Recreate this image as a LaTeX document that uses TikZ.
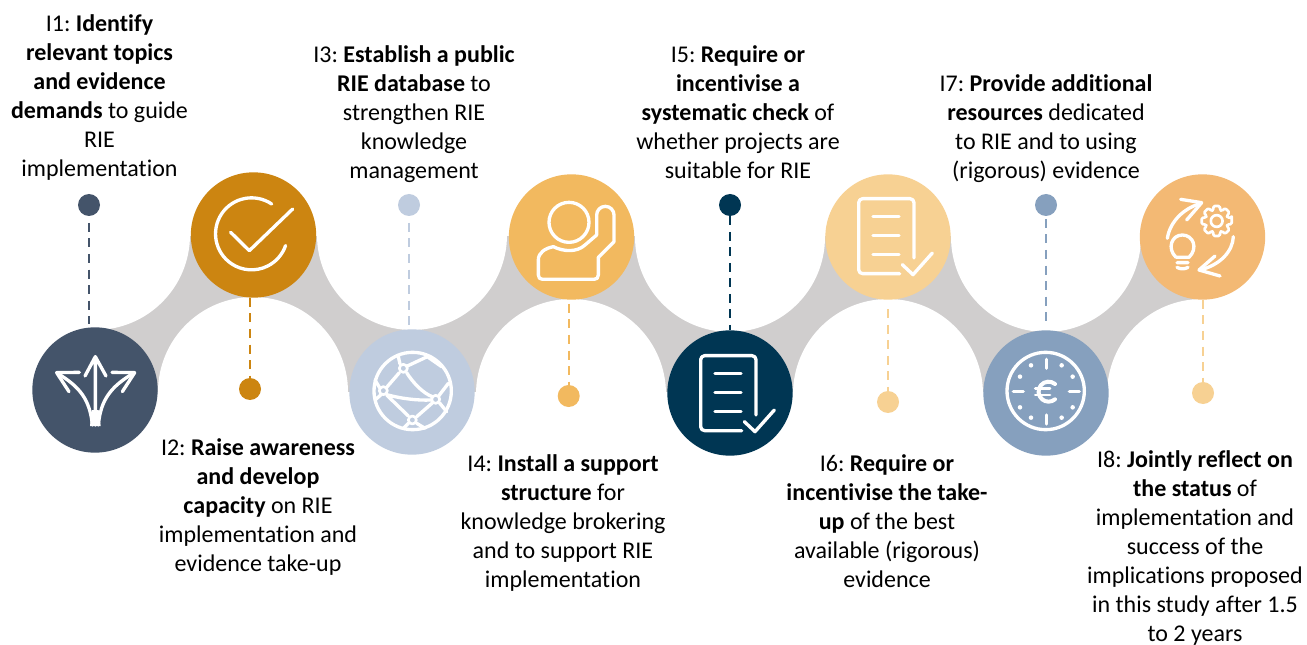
\documentclass[tikz,border=0pt]{standalone}
\usepackage{fontspec}
\setmainfont{Carlito}[Ligatures=CommonOff]
\frenchspacing
\definecolor{cA}{HTML}{44546A}
\definecolor{cB}{HTML}{CC8511}
\definecolor{cC}{HTML}{BFCCDF}
\definecolor{cD}{HTML}{F2B95F}
\definecolor{cE}{HTML}{003653}
\definecolor{cF}{HTML}{F7D193}
\definecolor{cG}{HTML}{86A0BE}
\definecolor{cH}{HTML}{F3B974}
\definecolor{band}{HTML}{D0CECE}
\tikzset{
  disc/.style={circle,minimum size=94pt,inner sep=0pt,fill=#1},
  dotn/.style={circle,minimum size=16.5pt,inner sep=0pt,fill=#1},
  cut/.style={circle,minimum size=142.5pt,inner sep=0pt,fill=white},
  link/.style={draw=#1,line width=1.5pt,dash pattern=on 6.75pt off 4.9pt},
  iconline/.style={draw=white,line width=2.5pt,line cap=round,line join=round},
  thinicon/.style={draw=white,line width=2pt,line cap=round,line join=round},
  lab/.style={align=center,inner sep=0pt,text=black,font=\fontsize{18}{21.75}\selectfont},
  zoomA/.style={shift={(#1,180)},x=0.25pt,y=-0.25pt},
  docicon/.pic={
    \draw[iconline,rounded corners=3pt,x=0.25pt,y=-0.25pt] (35,113) -- (-88,113) -- (-88,-112) -- (78,-112) -- (78,66);
    \draw[iconline,x=0.25pt,y=-0.25pt] (-45,-59) -- (33,-59) (-45,-1) -- (33,-1) (-45,56) -- (33,56);
    \draw[iconline,x=0.25pt,y=-0.25pt] (43,86) -- (75,116) -- (133,51);
  }
}
\begin{document}
\begin{tikzpicture}[x=0.75pt,y=-0.75pt]
\useasboundingbox (0,0) rectangle (1307,645);
% band
\fill[band] (95,236) rectangle (1202,392);
\node[cut] (w1) at (95,235) {};
\node[cut] (w2) at (412,235) {};
\node[cut] (w3) at (730,237) {};
\node[cut] (w4) at (1046,237) {};
\node[cut] (w5) at (253,392) {};
\node[cut] (w6) at (571,394) {};
\node[cut] (w7) at (888,394) {};
\node[cut] (w8) at (1202,394) {};
% discs
\node[disc=cA] (c1) at (95,390) {};
\node[disc=cB] (c2) at (253.5,235) {};
\node[disc=cC] (c3) at (412,392) {};
\node[disc=cD] (c4) at (571.5,237) {};
\node[disc=cE] (c5) at (730,393) {};
\node[disc=cF] (c6) at (888,237) {};
\node[disc=cG] (c7) at (1046,393) {};
\node[disc=cH] (c8) at (1202.5,237) {};
% dots
\node[dotn=cA] (d1) at (89,205) {};
\node[dotn=cB] (d2) at (250,389) {};
\node[dotn=cC] (d3) at (409,205) {};
\node[dotn=cD] (d4) at (568.7,396) {};
\node[dotn=cE] (d5) at (730,205) {};
\node[dotn=cF] (d6) at (888,402) {};
\node[dotn=cG] (d7) at (1046,205) {};
\node[dotn=cF] (d8) at (1203,393) {};
% connectors
\draw[link=cA,shorten <=5pt,shorten >=2.5pt] (d1.south) -- (d1.south |- c1.north);
\draw[link=cB] (d2.north |- c2.south) -- (d2.north);
\draw[link=cC,shorten <=5pt,shorten >=3pt] (d3.south) -- (d3.south |- c3.north);
\draw[link=cD,shorten <=3pt] (d4.north |- c4.south) -- (d4.north);
\draw[link=cE] (d5.south) -- (c5.north);
\draw[link=cF,shorten <=7pt] (d6.north |- c6.south) -- (d6.north);
\draw[link=cG,shorten <=2pt,shorten >=7pt] (d7.south) -- (c7.north);
\draw[link=cF] (d8.north |- c8.south) -- (d8.north);
% icon 1
\begin{scope}[zoomA=0]
\draw[iconline] (286,735) -- (286,530) (255,588) -- (286,530) -- (318,588);
\draw[iconline] (277,735) .. controls (270,660) and (240,620) .. (172,580);
\draw[iconline] (238,577) -- (170,578) -- (207,635);
\draw[iconline] (295,735) .. controls (302,660) and (332,620) .. (400,580);
\draw[iconline] (336,577) -- (404,578) -- (367,635);
\fill[white] (270,738) -- (302,738) -- (296,690) -- (276,690) -- cycle;
% icon 2
\draw[iconline] (815,72) arc[start angle=56,end angle=341,radius=27pt];
\draw[iconline] (692,157) -- (748,212) -- (878,87);
\end{scope}
% icon 3, 4
\begin{scope}[zoomA=340]
\draw[iconline] (218,633) circle[radius=29pt];
\draw[thinicon] (190,565) circle[radius=3pt] (130,632) circle[radius=3pt] (287,658) circle[radius=3pt] (217,720) circle[radius=3pt];
\draw[iconline] (180,552) -- (175,530) (202,558) -- (262,530) -- (305,560)
  (178,578) -- (140,622) (120,625) -- (105,600) (122,645) -- (105,660)
  (140,644) .. controls (180,655) and (230,662) .. (274,660)
  (200,578) .. controls (220,610) and (250,640) .. (277,650)
  (140,645) -- (205,708) (230,710) -- (278,668)
  (296,648) -- (325,610) (298,668) -- (320,695)
  (205,730) -- (190,745) (230,730) -- (255,745);
\draw[iconline] (687,127) circle[radius=15pt];
\draw[iconline] (640,200) .. controls (670,215) and (710,218) .. (735,195)
  -- (770,165) -- (770,105) arc[start angle=180,end angle=0,radius=6.5pt] -- (822,185) -- (775,232) -- (775,285)
  .. controls (775,294) and (770,298) .. (762,298) -- (608,298) .. controls (600,298) and (595,294) .. (595,285)
  -- (595,240) .. controls (595,218) and (615,205) .. (640,200) -- cycle;
\end{scope}
\pic at (730,393) {docicon};
\pic at (888,236) {docicon};
% icons 7, 8
\begin{scope}[zoomA=800]
\draw[iconline] (737,633) circle[radius=29pt];
\draw[iconline] (739,538) -- (739,565) (739,705) -- (739,732) (640,635) -- (670,635) (808,635) -- (838,635);
\foreach \p in {(693,556),(785,556),(660,590),(818,590),(660,682),(818,682),(693,713),(785,713)}
  \fill[white] \p circle[radius=1.7pt];
\draw[iconline,line width=3pt] (765,612) arc[start angle=50,end angle=310,radius=7.5pt];
\draw[iconline,line width=2.2pt] (706,625) -- (750,625) (706,645) -- (750,645);
% gear
\begin{scope}[shift={(1250,123)}]
\draw[thinicon,rounded corners=1pt] (-12:46) \foreach \a in {0,45,...,315}{ -- (\a-12:46) -- (\a+12:46) -- (\a+18:34) -- (\a+27:34)} -- cycle;
\draw[thinicon] (0,0) circle[radius=4.4pt];
\end{scope}
% bulb
\draw[iconline] (1128,232) .. controls (1100,205) and (1115,165) .. (1147,165) .. controls (1180,165) and (1195,205) .. (1167,232) -- (1128,232);
\draw[iconline] (1131,248) -- (1164,248) (1131,262) .. controls (1140,268) and (1155,268) .. (1164,262);
% arrows
\draw[iconline] (1102,175) .. controls (1110,125) and (1150,85) .. (1203,70);
\draw[iconline] (1142,58) -- (1205,68) -- (1160,120);
\draw[iconline] (1300,170) .. controls (1298,215) and (1260,255) .. (1200,270);
\draw[iconline] (1245,228) -- (1197,270) -- (1260,288);
\end{scope}
% labels
\node[lab] (t1) at (99.5,98) {I1: \textbf{Identify}\\\textbf{relevant topics}\\\textbf{and evidence}\\\textbf{demands} to guide\\RIE\\implementation};
\node[lab] (t2) at (258,507) {I2: \textbf{Raise awareness}\\\textbf{and develop}\\\textbf{capacity} on RIE\\implementation and\\evidence take-up};
\node[lab] (t3) at (414,114) {I3: \textbf{Establish a public}\\\textbf{RIE database} to\\strengthen RIE\\knowledge\\management};
\node[lab] (t4) at (563,523) {I4: \textbf{Install a support}\\\textbf{structure} for\\knowledge brokering\\and to support RIE\\implementation};
\node[lab] (t5) at (738,112) {I5: \textbf{Require or}\\\textbf{incentivise a}\\\textbf{systematic check} of\\whether projects are\\suitable for RIE};
\node[lab] (t6) at (887,521) {I6: \textbf{Require or}\\\textbf{incentivise the take-}\\\textbf{up} of the best\\available (rigorous)\\evidence};
\node[lab] (t7) at (1046,128.5) {I7: \textbf{Provide additional}\\\textbf{resources} dedicated\\to RIE and to using\\(rigorous) evidence};
\node[lab] (t8) at (1195,548) {I8: \textbf{Jointly reflect on}\\\textbf{the status} of\\implementation and\\success of the\\implications proposed\\in this study after 1.5\\to 2 years};
\end{tikzpicture}
\end{document}
